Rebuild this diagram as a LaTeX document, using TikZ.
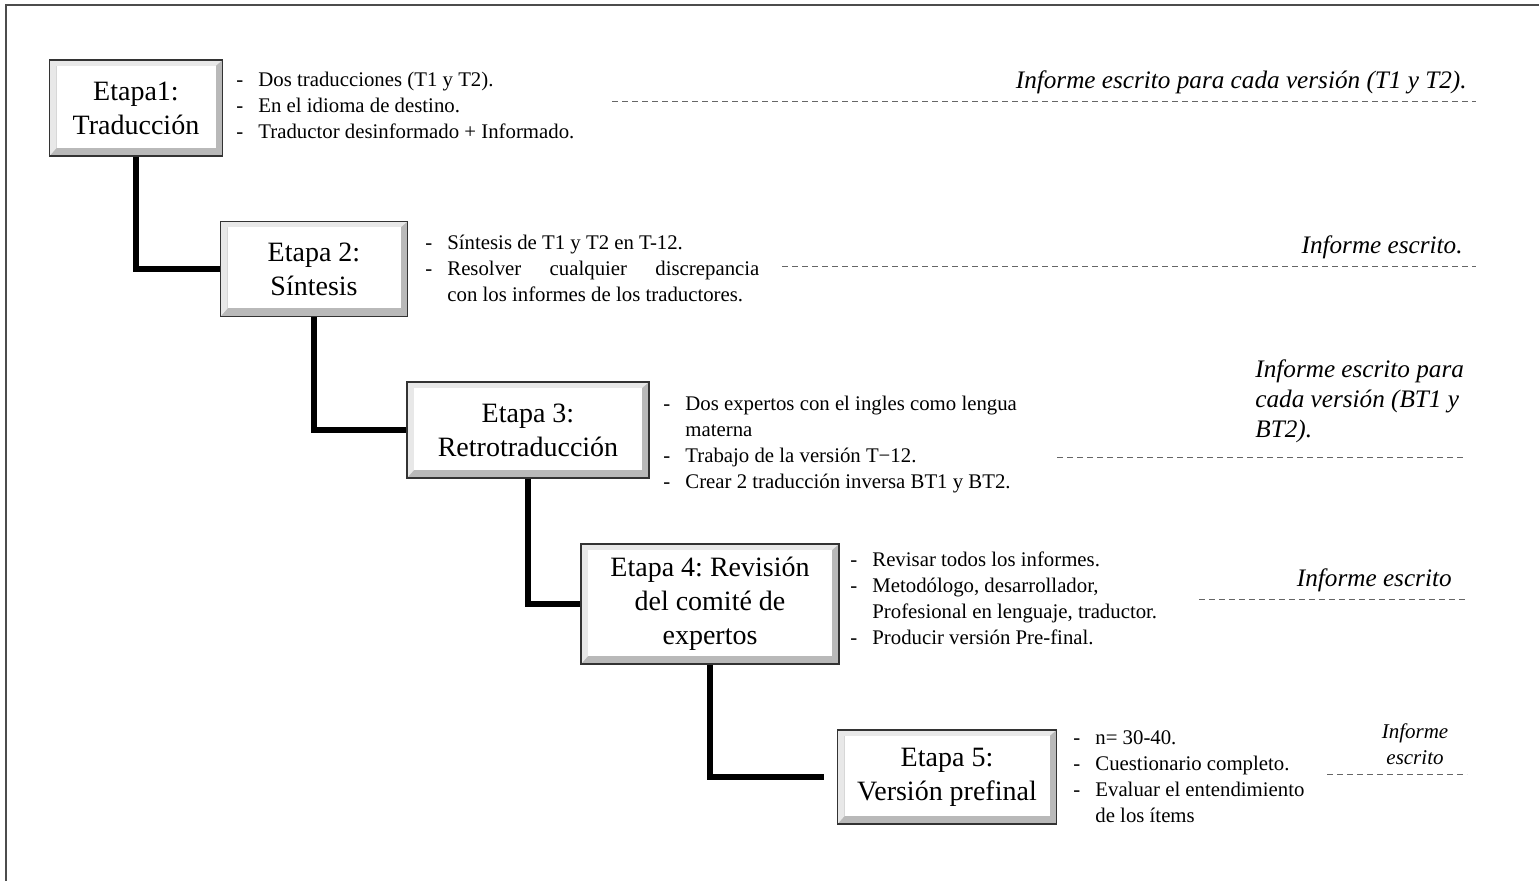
\documentclass[tikz,border=0pt]{standalone}
\usepackage{fontspec}
\setmainfont{Liberation Serif}
\usepackage{tikz}
\usetikzlibrary{calc}
\frenchspacing
\tikzset{
  etapa/.style={draw=black!80, line width=0.9pt, align=center,
    font=\fontsize{14}{17}\selectfont, inner sep=2pt,
    path picture={
      \fill[gray!55] (path picture bounding box.south west) rectangle (path picture bounding box.north east);
      \fill[gray!18] (path picture bounding box.south west) -- (path picture bounding box.north west)
        -- (path picture bounding box.north east) -- ([shift={(-3.5pt,-3pt)}]path picture bounding box.north east)
        -- ([shift={(3.5pt,-3pt)}]path picture bounding box.north west) -- ([shift={(3.5pt,4pt)}]path picture bounding box.south west) -- cycle;
      \fill[white] ([shift={(3.5pt,-3pt)}]path picture bounding box.north west) rectangle ([shift={(-3.5pt,4pt)}]path picture bounding box.south east);
    }},
  lista/.style={anchor=west, align=left, inner sep=0pt, font=\fontsize{10.4}{13}\selectfont},
  nota/.style={inner sep=0pt, font=\itshape\fontsize{12.6}{15}\selectfont},
  enlace/.style={line width=3pt},
  guia/.style={draw=black!60, line width=0.5pt, dash pattern=on 3pt off 2pt},
  marco/.style={draw=black!70, line width=1pt}
}
\newcommand{\guion}{\makebox[11pt][l]{-}}
\newcommand{\sangria}{\hspace*{11pt}}

\begin{document}
\begin{tikzpicture}[x=0.5pt,y=-0.5pt]
\useasboundingbox (0,0) rectangle (1539,881);
\draw[marco] (6,881) -- (6,5) -- (1539,5);

% etapas
\node[etapa, minimum width=86.5pt, minimum height=48pt] (E1) at (136,108) {Etapa1:\\Traducción};
\node[etapa, minimum width=93.5pt, minimum height=47.5pt] (E2) at (314,269) {Etapa 2:\\Síntesis};
\node[etapa, minimum width=121pt, minimum height=48pt] (E3) at (528,430) {Etapa 3:\\Retrotraducción};
\node[etapa, minimum width=129pt, minimum height=60pt] (E4) at (710,604) {Etapa 4: Revisión\\del comité de\\expertos};
\node[etapa, minimum width=109.5pt, minimum height=47pt] (E5) at (947,777) {Etapa 5:\\Versión prefinal};

% enlaces
\draw[enlace] (E1.south) |- (E2.west);
\draw[enlace] (E2.south) |- (E3.west);
\draw[enlace] (E3.south) |- (E4.west);
\draw[enlace] (E4.south) |- ([xshift=-6.5pt]E5.west);

% listas
\node[lista] (L1) at (236,105) {\guion Dos traducciones (T1 y T2).\\
  \guion En el idioma de destino.\\
  \guion Traductor desinformado + Informado.};
\node[lista] (L2) at (425,268) {\guion Síntesis de T1 y T2 en T-12.\\
  \guion \makebox[156pt][s]{Resolver cualquier discrepancia}\\
  \sangria con los informes de los traductores.};
\node[lista] (L3) at (663,445) {\guion Dos expertos con el ingles como lengua\\
  \sangria materna\\
  \guion Trabajo de la versión T−12.\\
  \guion Crear 2 traducción inversa BT1 y BT2.};
\node[lista] (L4) at (850,598) {\guion Revisar todos los informes.\\
  \guion Metodólogo, desarrollador,\\
  \sangria Profesional en lenguaje, traductor.\\
  \guion Producir versión Pre-final.};
\node[lista] (L5) at (1073,777) {\guion n= 30-40.\\
  \guion Cuestionario completo.\\
  \guion Evaluar el entendimiento\\
  \sangria de los ítems};

% informes
\node[nota, anchor=east] (N1) at (1467,82) {Informe escrito para cada versión (T1 y T2).};
\draw[guia] (612,102) -- (1476,102);
\node[nota, anchor=east] (N2) at (1463,247) {Informe escrito.};
\draw[guia] (782,267) -- (1476,267);
\node[nota, anchor=west, align=left] (N3) at (1255,401) {Informe escrito para\\cada versión (BT1 y\\BT2).};
\draw[guia] (1057,458) -- (1466,458);
\node[nota, anchor=east] (N4) at (1452,580) {Informe escrito};
\draw[guia] (1199,600) -- (1466,600);
\node[nota, align=center, font=\itshape\fontsize{10.5}{13}\selectfont] (N5) at (1415,744) {Informe\\escrito};
\draw[guia] (1327,775) -- (1467,775);

\end{tikzpicture}
\end{document}
